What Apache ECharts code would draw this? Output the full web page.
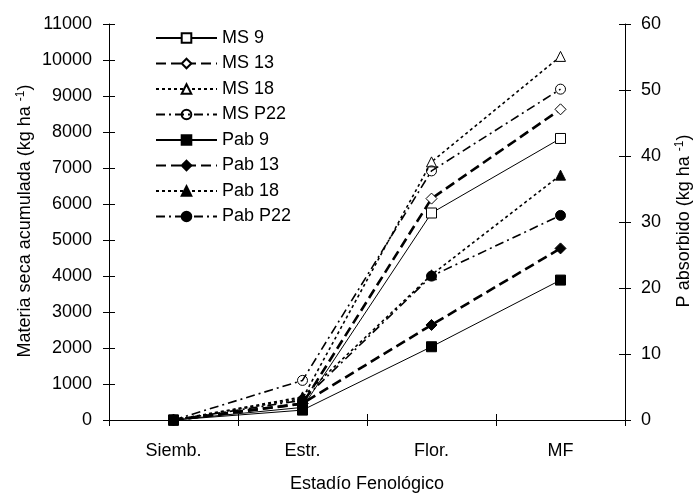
<!DOCTYPE html>
<html><head><meta charset="utf-8">
<script src="https://cdn.jsdelivr.net/npm/echarts@6/dist/echarts.min.js"></script>
<style>html,body{margin:0;padding:0;background:#fff}#c{width:694px;height:493px}</style>
</head><body><div id="c"></div>
<script>
const categories = ['Siemb.', 'Estr.', 'Flor.', 'MF'];
const leftTicks = [0, 11000, 1000];
const rightTicks = [0, 60, 10];
const ms9 = [0, 350, 5750, 7820];
const ms13 = [0, 450, 6150, 8630];
const ms18 = [0, 600, 7170, 10100];
const msP22 = [0, 1100, 6920, 9190];
const pab9 = [0, 1.5, 11.1, 21.2];
const pab13 = [0, 2.5, 14.4, 26.0];
const pab18 = [0, 3.5, 22.0, 37.1];
const pabP22 = [0, 3.0, 21.8, 31.0];

const FONT = 'Liberation Sans, Arial, sans-serif';
const FS = 18;
const styles = {
  solid: {type: 'solid', width: 1},
  dashed: {type: [10, 5], width: 2.6},
  dotted: {type: [3, 3], width: 1.6},
  dashdot: {type: [9, 4, 2, 4], width: 1.6}
};
function mk(name, data, yIdx, style, symbol, filled, hollowTransparent) {
  return {
    name, type: 'line', data, xAxisIndex: 0, yAxisIndex: yIdx,
    symbol, symbolSize: symbol === 'diamond' ? 11 : 10,
    showAllSymbol: true, animation: false,
    lineStyle: Object.assign({color: '#000'}, styles[style]),
    itemStyle: {color: filled ? '#000' : (hollowTransparent ? 'rgba(255,255,255,0)' : '#fff'), borderColor: '#000', borderWidth: 1},
    emphasis: {disabled: true}
  };
}
const series = [
  mk('MS 9', ms9, 0, 'solid', 'rect', false),
  mk('MS 13', ms13, 0, 'dashed', 'diamond', false),
  mk('MS 18', ms18, 0, 'dotted', 'triangle', false),
  mk('MS P22', msP22, 0, 'dashdot', 'circle', false, true),
  mk('Pab 9', pab9, 1, 'solid', 'rect', true),
  mk('Pab 13', pab13, 1, 'dashed', 'diamond', true),
  mk('Pab 18', pab18, 1, 'dotted', 'triangle', true),
  mk('Pab P22', pabP22, 1, 'dashdot', 'circle', true)
];
const axisLine = {show: true, lineStyle: {color: '#000', width: 1}};
const lbl = {color: '#000', fontFamily: FONT, fontSize: FS};
const fmt = v => String(v);
const chart = echarts.init(document.getElementById('c'), null, {renderer: 'canvas'});
chart.setOption({
  backgroundColor: '#fff',
  animation: false,
  grid: [{left: 109, right: 69, top: 24, bottom: 73}],
  legend: {
    left: 150, top: 24, orient: 'vertical', itemWidth: 61, itemHeight: 12, itemGap: 7.5,
    textStyle: {color: '#000', fontFamily: FONT, fontSize: FS, lineHeight: 18},
    data: series.map(s => s.name), selectedMode: false
  },
  xAxis: [
    {type: 'category', data: categories, boundaryGap: true,
      axisLine, axisTick: {show: true, length: 6, lineStyle: {color: '#000'}},
      axisLabel: Object.assign({margin: 22}, lbl), splitLine: {show: false}},
    {type: 'category', data: categories, boundaryGap: true, position: 'bottom',
      axisLine: {show: false}, axisTick: {show: true, inside: true, length: 6, lineStyle: {color: '#000'}},
      axisLabel: {show: false}, splitLine: {show: false}}
  ],
  yAxis: [
    {type: 'value', position: 'left', min: leftTicks[0], max: leftTicks[1], interval: leftTicks[2],
      axisLine, axisTick: {show: true, length: 6, lineStyle: {color: '#000'}},
      axisLabel: Object.assign({margin: 17, formatter: fmt}, lbl), splitLine: {show: false}},
    {type: 'value', position: 'right', min: rightTicks[0], max: rightTicks[1], interval: rightTicks[2],
      axisLine, axisTick: {show: true, length: 6, lineStyle: {color: '#000'}},
      axisLabel: Object.assign({margin: 16, formatter: fmt}, lbl), splitLine: {show: false}},
    {type: 'value', position: 'left', min: leftTicks[0], max: leftTicks[1], interval: leftTicks[2],
      axisLine: {show: false}, axisTick: {show: true, inside: true, length: 6, lineStyle: {color: '#000'}},
      axisLabel: {show: false}, splitLine: {show: false}},
    {type: 'value', position: 'right', min: rightTicks[0], max: rightTicks[1], interval: rightTicks[2],
      axisLine: {show: false}, axisTick: {show: true, inside: true, length: 6, lineStyle: {color: '#000'}},
      axisLabel: {show: false}, splitLine: {show: false}}
  ],
  graphic: [
    {type: 'text', x: 25, y: 221, rotation: Math.PI / 2, style: {
      text: 'Materia seca acumulada (kg ha {s|-1})', fill: '#000', font: FS + 'px ' + FONT,
      align: 'center', verticalAlign: 'middle',
      rich: {s: {fontSize: 12, fontFamily: FONT, fill: '#000', verticalAlign: 'top', padding: [0, 0, 9, 0]}}}},
    {type: 'text', x: 684, y: 221, rotation: Math.PI / 2, style: {
      text: 'P absorbido (kg ha {s|-1})', fill: '#000', font: FS + 'px ' + FONT,
      align: 'center', verticalAlign: 'middle',
      rich: {s: {fontSize: 12, fontFamily: FONT, fill: '#000', verticalAlign: 'top', padding: [0, 0, 9, 0]}}}},
    {type: 'text', x: 367, y: 484, style: {text: 'Estadío Fenológico', fill: '#000', font: FS + 'px ' + FONT, align: 'center', verticalAlign: 'middle'}}
  ],
  series
});
</script></body></html>
